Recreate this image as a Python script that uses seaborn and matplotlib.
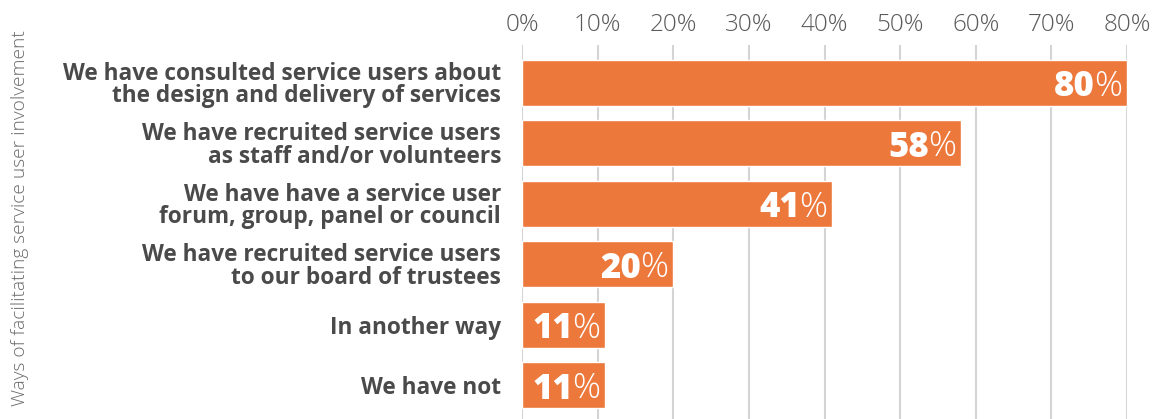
import matplotlib
matplotlib.use("Agg")
import matplotlib.pyplot as plt
import matplotlib.transforms as mtransforms
import seaborn as sns
import pandas as pd

categories = [
    "We have consulted service users about\nthe design and delivery of services",
    "We have recruited service users\nas staff and/or volunteers",
    "We have have a service user\nforum, group, panel or council",
    "We have recruited service users\nto our board of trustees",
    "In another way",
    "We have not",
]
values = [80, 58, 41, 20, 11, 11]
x_ticks = [0, 10, 20, 30, 40, 50, 60, 70, 80]
y_title = "Ways of facilitating service user involvement"

BAR = "#ED783C"
TEXT = "#4a4a4a"
GRID = "#d4d4d4"

sns.set_theme(style="white")
plt.rcParams["font.family"] = ["Open Sans", "DejaVu Sans"]

df = pd.DataFrame({"way": categories, "pct": values})

fig = plt.figure(figsize=(11.56, 4.19), dpi=100)
ax = fig.add_axes([0.4516, 0.0, 0.5234, 0.8926])

sns.barplot(data=df, y="way", x="pct", orient="h", color=BAR,
            saturation=1, width=0.76, ax=ax, zorder=3)

ax.set_xlim(0, 80)
ax.set_ylim(5.56, -0.62)
ax.set_xticks(x_ticks)
ax.set_xticklabels([f"{t}%" for t in x_ticks], fontsize=17.5, color="#5a5a5a",
                   fontweight="light")
ax.xaxis.tick_top()
ax.tick_params(axis="x", length=0, pad=6)
ax.tick_params(axis="y", length=0, pad=15)
ax.grid(axis="x", color=GRID, linewidth=1.5, zorder=0)
ax.grid(axis="y", visible=False)
for s in ax.spines.values():
    s.set_visible(False)
ax.set_xlabel("")
ax.set_ylabel("")

for t in ax.get_yticklabels():
    t.set_fontsize(16.3)
    t.set_fontweight("bold")
    t.set_color(TEXT)
    t.set_multialignment("right")
    t.set_linespacing(0.92)

fig.text(0.017, 0.48, y_title, rotation=90, ha="center", va="center",
         fontsize=13.8, color="#6a6a6a", fontweight="light")

fig.canvas.draw()
renderer = fig.canvas.get_renderer()
for i, v in enumerate(values):
    tr = mtransforms.offset_copy(ax.transData, fig=fig, x=-5, y=0, units="dots")
    pct = ax.text(v, i, "%", ha="right", va="center_baseline", color="white",
                  fontsize=25, fontweight="light", transform=tr, zorder=4)
    w = pct.get_window_extent(renderer).width
    tr2 = mtransforms.offset_copy(ax.transData, fig=fig, x=-4 - w, y=0, units="dots")
    ax.text(v, i, f"{v}", ha="right", va="center_baseline", color="white",
            fontsize=25, fontweight="heavy", transform=tr2, zorder=4)

fig.savefig("out.png", dpi=100)
